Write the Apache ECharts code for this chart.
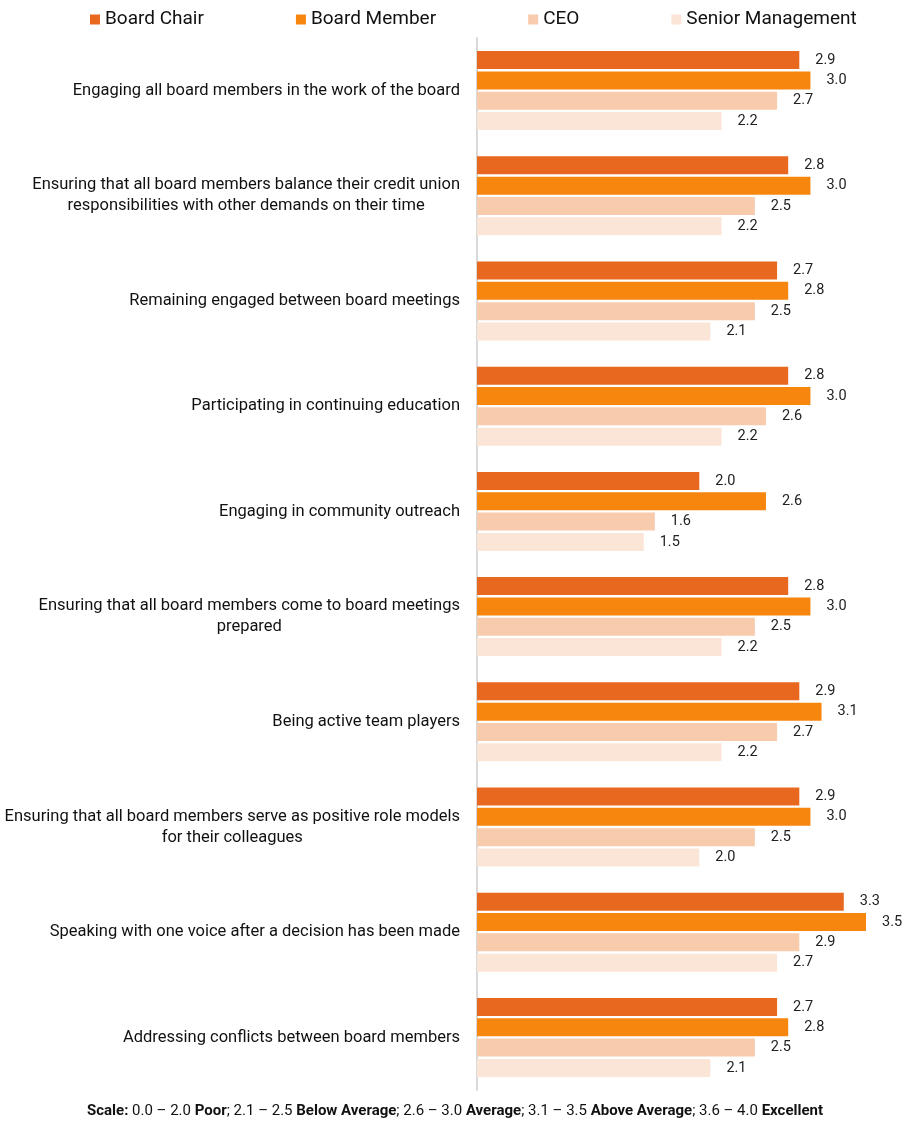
<!DOCTYPE html>
<html>
<head>
<meta charset="utf-8">
<script src="https://cdn.jsdelivr.net/npm/echarts@6/dist/echarts.min.js"></script>
<style>
  html, body { margin: 0; padding: 0; background: #fff; }
  #main { width: 910px; height: 1121px; }
</style>
</head>
<body>
<div id="main"></div>
<script>
// categories, top to bottom
var categories = [
    'Engaging all board members in the work of the board',
    'Ensuring that all board members balance their credit union\nresponsibilities with other demands on their time',
    'Remaining engaged between board meetings',
    'Participating in continuing education',
    'Engaging in community outreach',
    'Ensuring that all board members come to board meetings\nprepared',
    'Being active team players',
    'Ensuring that all board members serve as positive role models\nfor their colleagues',
    'Speaking with one voice after a decision has been made',
    'Addressing conflicts between board members'
];
var seriesNames = ['Board Chair', 'Board Member', 'CEO', 'Senior Management'];
var boardChair = [2.9, 2.8, 2.7, 2.8, 2.0, 2.8, 2.9, 2.9, 3.3, 2.7];
var boardMember = [3.0, 3.0, 2.8, 3.0, 2.6, 3.0, 3.1, 3.0, 3.5, 2.8];
var ceo = [2.7, 2.5, 2.5, 2.6, 1.6, 2.5, 2.7, 2.5, 2.9, 2.5];
var seniorMgmt = [2.2, 2.2, 2.1, 2.2, 1.5, 2.2, 2.2, 2.0, 2.7, 2.1];
var colors = ['#E8681F', '#F7860F', '#F8CBAD', '#FBE5D6'];

var font = 'Roboto, "Liberation Sans", sans-serif';

var myChart = echarts.init(document.getElementById('main'));

function makeSeries(name, data) {
    return {
        name: name,
        type: 'bar',
        data: data,
        barWidth: 18,
        barGap: '13%',
        label: {
            show: true,
            position: 'right',
            distance: 16,
            color: '#222',
            fontSize: 14.5,
            fontFamily: font,
            formatter: function (p) { return p.value.toFixed(1); }
        }
    };
}

myChart.setOption({
    backgroundColor: '#fff',
    animation: false,
    color: colors,
    textStyle: { fontFamily: font },
    legend: {
        top: 5,
        left: 85,
        icon: 'rect',
        itemWidth: 10,
        itemHeight: 10,
        itemGap: 92,
        textStyle: { fontSize: 19, color: '#111', fontFamily: font },
        data: seriesNames
    },
    grid: {
        left: 477,
        top: 38,
        width: 389,
        height: 1052
    },
    xAxis: {
        type: 'value',
        min: 0,
        max: 3.5,
        show: false
    },
    yAxis: {
        type: 'category',
        inverse: true,
        data: categories,
        axisLine: { lineStyle: { color: '#d9d9d9', width: 2 } },
        axisTick: { show: false },
        axisLabel: {
            margin: 17,
            color: '#111',
            fontSize: 16.5,
            fontFamily: font,
            // lines centred inside the block, block right aligned
            formatter: function (v) {
                return v.split('\n').map(function (l) { return '{c|' + l + '}'; }).join('\n');
            },
            rich: {
                c: { align: 'center', fontSize: 16.5, lineHeight: 21, color: '#111', fontFamily: font }
            }
        }
    },
    series: [
        makeSeries(seriesNames[0], boardChair),
        makeSeries(seriesNames[1], boardMember),
        makeSeries(seriesNames[2], ceo),
        makeSeries(seriesNames[3], seniorMgmt)
    ],
    graphic: [{
        type: 'text',
        left: 'center',
        top: 1104,
        style: {
            text: '{b|Scale:} 0.0 – 2.0 {b|Poor}; 2.1 – 2.5 {b|Below Average}; 2.6 – 3.0 {b|Average}; 3.1 – 3.5 {b|Above Average}; 3.6 – 4.0 {b|Excellent}',
            fontSize: 15,
            fontFamily: font,
            fill: '#111',
            rich: {
                b: { fontWeight: 'bold', fontSize: 15, fontFamily: font, color: '#111' }
            }
        }
    }]
});
</script>
</body>
</html>
